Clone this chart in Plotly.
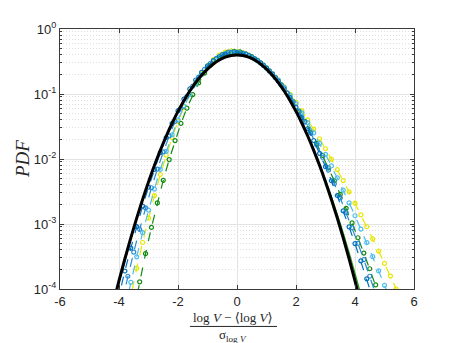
import plotly.graph_objects as go

# ── Data ──────────────────────────────────────────────────────────────────────

# Gaussian reference (thick black line)
gauss_x = [-4.4, -4.2, -4.0, -3.8, -3.6, -3.4, -3.2, -3.0, -2.8, -2.6, -2.4, -2.2, -2.0,
           -1.8, -1.6, -1.4, -1.2, -1.0, -0.8, -0.6, -0.4, -0.2, 0.0, 0.2, 0.4, 0.6, 0.8,
           1.0, 1.2, 1.4, 1.6, 1.8, 2.0, 2.2, 2.4, 2.6, 2.8, 3.0, 3.2, 3.4, 3.6, 3.8, 4.0,
           4.2, 4.4]
gauss_pdf = [2.49e-5, 5.89e-5, 1.34e-4, 2.92e-4, 6.12e-4, 1.23e-3, 2.38e-3, 4.43e-3, 7.92e-3,
             1.36e-2, 2.24e-2, 3.55e-2, 5.40e-2, 7.90e-2, 0.111, 0.150, 0.194, 0.242, 0.290,
             0.333, 0.368, 0.391, 0.399, 0.391, 0.368, 0.333, 0.290, 0.242, 0.194, 0.150,
             0.111, 7.90e-2, 5.40e-2, 3.55e-2, 2.24e-2, 1.36e-2, 7.92e-3, 4.43e-3, 2.38e-3,
             1.23e-3, 6.12e-4, 2.92e-4, 1.34e-4, 5.89e-5, 2.49e-5]

# thin green line hugging the Gaussian
thin_x = [-4.2, -4.0, -3.8, -3.6, -3.4, -3.2, -3.0, -2.8, -2.6, -2.4, -2.2, -2.0, -1.8, -1.6,
          -1.4, -1.2, -1.0, -0.8, -0.6, -0.4, -0.2, 0.0, 0.2, 0.4, 0.6, 0.8, 1.0, 1.2, 1.4,
          1.6, 1.8, 2.0, 2.2, 2.4, 2.6, 2.8, 3.0, 3.2, 3.4, 3.6, 3.8, 4.0, 4.2, 4.4]
thin_pdf = [5.31e-5, 1.23e-4, 2.72e-4, 5.79e-4, 1.19e-3, 2.32e-3, 4.38e-3, 7.89e-3, 1.37e-2,
            2.28e-2, 3.63e-2, 5.56e-2, 8.17e-2, 0.1152, 0.1560, 0.2026, 0.2526, 0.3020,
            0.3469, 0.3821, 0.4039, 0.4098, 0.3992, 0.3736, 0.3360, 0.2904, 0.2417, 0.1933,
            0.1489, 0.1104, 7.88e-2, 5.42e-2, 3.59e-2, 2.29e-2, 1.413e-2, 8.39e-3, 4.81e-3,
            2.66e-3, 1.42e-3, 7.34e-4, 3.66e-4, 1.76e-4, 8.21e-5, 3.69e-5]

blue_x = [-4.2, -4.0, -3.8, -3.6, -3.4, -3.2, -3.0, -2.8, -2.6, -2.4, -2.2, -2.0, -1.8, -1.6,
          -1.4, -1.2, -1.0, -0.8, -0.6, -0.4, -0.2, 0.0, 0.2, 0.4, 0.6, 0.8, 1.0, 1.2, 1.4,
          1.6, 1.8, 2.0, 2.2, 2.4, 2.6, 2.8, 3.0, 3.2, 3.4, 3.6, 3.8, 4.0, 4.2, 4.4, 4.6, 4.8]
blue_pdf = [3.28e-5, 8.04e-5, 1.89e-4, 4.26e-4, 9.14e-4, 1.88e-3, 3.69e-3, 6.93e-3, 1.25e-2,
            2.14e-2, 3.52e-2, 5.53e-2, 8.32e-2, 0.1195, 0.1642, 0.2157, 0.2710, 0.3255,
            0.3740, 0.4108, 0.4315, 0.4336, 0.4185, 0.3888, 0.3480, 0.3006, 0.2509, 0.2025,
            0.1581, 0.1197, 8.79e-2, 6.26e-2, 4.34e-2, 2.92e-2, 1.92e-2, 1.224e-2, 7.62e-3,
            4.63e-3, 2.745e-3, 1.59e-3, 9.01e-4, 4.99e-4, 2.70e-4, 1.435e-4, 7.47e-5, 3.81e-5]

blue2_x = [-3.9, -3.7, -3.5, -3.3, -3.1, -2.9, -2.7, -2.5, -2.3, -2.1, -1.9, -1.7, -1.5, -1.3,
           -1.1, -0.9, -0.7, -0.5, -0.3, -0.1, 0.1, 0.3, 0.5, 0.7, 0.9, 1.1, 1.3, 1.5, 1.7,
           1.9, 2.1, 2.3, 2.5, 2.7, 2.9, 3.1, 3.3, 3.5, 3.7, 3.9, 4.1, 4.3, 4.5, 4.7, 4.9]
blue2_pdf = [6.32e-5, 1.57e-4, 3.69e-4, 8.30e-4, 1.77e-3, 3.61e-3, 7.00e-3, 1.29e-2, 2.27e-2,
             3.79e-2, 6.04e-2, 9.16e-2, 0.1324, 0.1821, 0.2385, 0.2973, 0.3530, 0.3990,
             0.4294, 0.4400, 0.4312, 0.4064, 0.3690, 0.3233, 0.2739, 0.2245, 0.1784, 0.1376,
             0.1031, 7.52e-2, 5.34e-2, 3.70e-2, 2.50e-2, 1.65e-2, 1.064e-2, 6.72e-3, 4.16e-3,
             2.52e-3, 1.50e-3, 8.76e-4, 5.02e-4, 2.83e-4, 1.57e-4, 8.57e-5, 4.60e-5]

cyan_x = [-3.8, -3.6, -3.4, -3.2, -3.0, -2.8, -2.6, -2.4, -2.2, -2.0, -1.8, -1.6, -1.4, -1.2,
          -1.0, -0.8, -0.6, -0.4, -0.2, 0.0, 0.2, 0.4, 0.6, 0.8, 1.0, 1.2, 1.4, 1.6, 1.8,
          2.0, 2.2, 2.4, 2.6, 2.8, 3.0, 3.2, 3.4, 3.6, 3.8, 4.0, 4.2, 4.4, 4.6, 4.8, 5.0,
          5.2, 5.4]
cyan_pdf = [4.84e-5, 1.265e-4, 3.13e-4, 7.35e-4, 1.64e-3, 3.45e-3, 6.90e-3, 1.31e-2, 2.35e-2,
            4.01e-2, 6.49e-2, 9.93e-2, 0.1443, 0.1987, 0.2594, 0.3210, 0.3770, 0.4191,
            0.4418, 0.4426, 0.4249, 0.3926, 0.3500, 0.3021, 0.2530, 0.2059, 0.1632, 0.1262,
            9.54e-2, 7.05e-2, 5.11e-2, 3.63e-2, 2.53e-2, 1.74e-2, 1.175e-2, 7.82e-3, 5.13e-3,
            3.32e-3, 2.12e-3, 1.34e-3, 8.35e-4, 5.16e-4, 3.15e-4, 1.90e-4, 1.14e-4, 6.77e-5,
            3.99e-5]

green_x = [-3.5, -3.3, -3.1, -2.9, -2.7, -2.5, -2.3, -2.1, -1.9, -1.7, -1.5, -1.3, -1.1, -0.9,
           -0.7, -0.5, -0.3, -0.1, 0.1, 0.3, 0.5, 0.7, 0.9, 1.1, 1.3, 1.5, 1.7, 1.9, 2.1,
           2.3, 2.5, 2.7, 2.9, 3.1, 3.3, 3.5, 3.7, 3.9, 4.1, 4.3, 4.5, 4.7, 4.9, 5.1]
green_pdf = [4.49e-5, 1.29e-4, 3.50e-4, 8.87e-4, 2.11e-3, 4.70e-3, 9.80e-3, 1.92e-2, 3.52e-2,
             6.06e-2, 9.78e-2, 0.1478, 0.2095, 0.2784, 0.3467, 0.4050, 0.4431, 0.4550,
             0.4438, 0.4164, 0.3763, 0.3284, 0.2773, 0.2268, 0.1800, 0.1389, 0.1043, 7.64e-2,
             5.46e-2, 3.81e-2, 2.60e-2, 1.74e-2, 1.138e-2, 7.30e-3, 4.61e-3, 2.85e-3, 1.74e-3,
             1.04e-3, 6.14e-4, 3.57e-4, 2.05e-4, 1.157e-4, 6.46e-5, 3.55e-5]

yellow_x = [-3.8, -3.6, -3.4, -3.2, -3.0, -2.8, -2.6, -2.4, -2.2, -2.0, -1.8, -1.6, -1.4, -1.2,
            -1.0, -0.8, -0.6, -0.4, -0.2, 0.0, 0.2, 0.4, 0.6, 0.8, 1.0, 1.2, 1.4, 1.6, 1.8,
            2.0, 2.2, 2.4, 2.6, 2.8, 3.0, 3.2, 3.4, 3.6, 3.8, 4.0, 4.2, 4.4, 4.6, 4.8, 5.0,
            5.2, 5.4, 5.6, 5.8]
yellow_pdf = [2.76e-5, 7.78e-5, 2.07e-4, 5.19e-4, 1.23e-3, 2.74e-3, 5.77e-3, 1.146e-2, 2.14e-2,
              3.78e-2, 6.31e-2, 9.92e-2, 0.1471, 0.2058, 0.2715, 0.3380, 0.3968, 0.4395,
              0.4592, 0.4545, 0.4318, 0.3956, 0.3505, 0.3015, 0.2524, 0.2061, 0.1644, 0.1285,
              9.85e-2, 7.42e-2, 5.49e-2, 4.01e-2, 2.88e-2, 2.05e-2, 1.437e-2, 9.97e-3, 6.84e-3,
              4.65e-3, 3.13e-3, 2.09e-3, 1.38e-3, 9.07e-4, 5.92e-4, 3.83e-4, 2.47e-4, 1.58e-4,
              1.00e-4, 6.34e-5, 3.99e-5]

x_ticks = [-6, -4, -2, 0, 2, 4, 6]
x_ticklabels = ["-6", "-4", "-2", "0", "2", "4", "6"]
y_ticks = [1e-4, 1e-3, 1e-2, 1e-1, 1]
y_ticklabels = ["10<sup>-4</sup>", "10<sup>-3</sup>", "10<sup>-2</sup>", "10<sup>-1</sup>", "10<sup>0</sup>"]

# ── Figure ────────────────────────────────────────────────────────────────────

SANS = "Liberation Sans, Arial, Helvetica, sans-serif"
SERIF = "Liberation Serif, DejaVu Serif, Times New Roman, serif"

fig = go.Figure()

# marker series, drawn back to front
marker_series = [
    (yellow_x, yellow_pdf, "#E6E600"),
    (green_x, green_pdf, "#0F8A0F"),
    (cyan_x, cyan_pdf, "#4DBEEE"),
    (blue2_x, blue2_pdf, "#2B8AD2"),
    (blue_x, blue_pdf, "#0072BD"),
]
for xs, ys, col in marker_series:
    fig.add_trace(go.Scatter(
        x=xs, y=ys,
        mode="lines+markers",
        line=dict(color=col, width=1.2, dash="dash"),
        marker=dict(symbol="circle-open", size=4, color=col, line=dict(width=1.2, color=col)),
        showlegend=False,
    ))

fig.add_trace(go.Scatter(
    x=thin_x, y=thin_pdf,
    mode="lines",
    line=dict(color="#1E9E1E", width=1.2, shape="spline"),
    showlegend=False,
))

fig.add_trace(go.Scatter(
    x=gauss_x, y=gauss_pdf,
    mode="lines",
    line=dict(color="black", width=3, shape="spline"),
    showlegend=False,
))

minor_vals = [m * 10.0 ** e for e in range(-4, 0) for m in range(2, 10)]

# the page body has an 8px margin, so the margins below are shifted to put
# the plot box where the reference has it
fig.update_layout(
    width=458, height=343,
    margin=dict(l=52, r=52, t=17, b=62),
    plot_bgcolor="white",
    paper_bgcolor="white",
    font=dict(family=SANS, size=13, color="#262626"),
    xaxis=dict(
        range=[-6, 6],
        tickmode="array", tickvals=x_ticks, ticktext=x_ticklabels,
        showgrid=True, gridcolor="#E3E3E3", gridwidth=1,
        zeroline=False,
        showline=True, linecolor="#3a3a3a", linewidth=1, mirror="ticks",
        ticks="inside", ticklen=4, tickcolor="#3a3a3a",
        tickfont=dict(family=SANS, size=13, color="#262626"),
    ),
    yaxis=dict(
        type="log", range=[-4, 0],
        tickmode="array", tickvals=y_ticks, ticktext=y_ticklabels,
        showgrid=True, gridcolor="#E3E3E3", gridwidth=1,
        zeroline=False,
        showline=True, linecolor="#3a3a3a", linewidth=1, mirror="ticks",
        ticks="inside", ticklen=4, tickcolor="#3a3a3a",
        tickfont=dict(family=SANS, size=13, color="#262626"),
        minor=dict(
            tickmode="array", tickvals=minor_vals,
            showgrid=True, griddash="1px,2px", gridcolor="#E0E0E0", gridwidth=1,
            ticks="inside", ticklen=2, tickcolor="#3a3a3a",
        ),
    ),
    annotations=[
        dict(text="<i>PDF</i>", xref="paper", yref="paper", x=-0.107, y=0.5,
             xanchor="center", yanchor="middle", textangle=-90, showarrow=False,
             font=dict(family=SERIF, size=19, color="#262626")),
        dict(text="log <i>V</i> − ⟨log <i>V</i>⟩", xref="paper", yref="paper",
             x=0.489, y=-0.110, xanchor="center", yanchor="middle", showarrow=False,
             font=dict(family=SERIF, size=13, color="#262626")),
        dict(text="σ<sub>log <i>V</i></sub>", xref="paper", yref="paper",
             x=0.489, y=-0.180, xanchor="center", yanchor="middle", showarrow=False,
             font=dict(family=SERIF, size=13, color="#262626")),
    ],
    shapes=[
        dict(type="line", xref="paper", yref="paper", x0=0.367, x1=0.613,
             y0=-0.144, y1=-0.144, line=dict(color="#262626", width=1)),
    ],
)

fig.write_html("out.html")
